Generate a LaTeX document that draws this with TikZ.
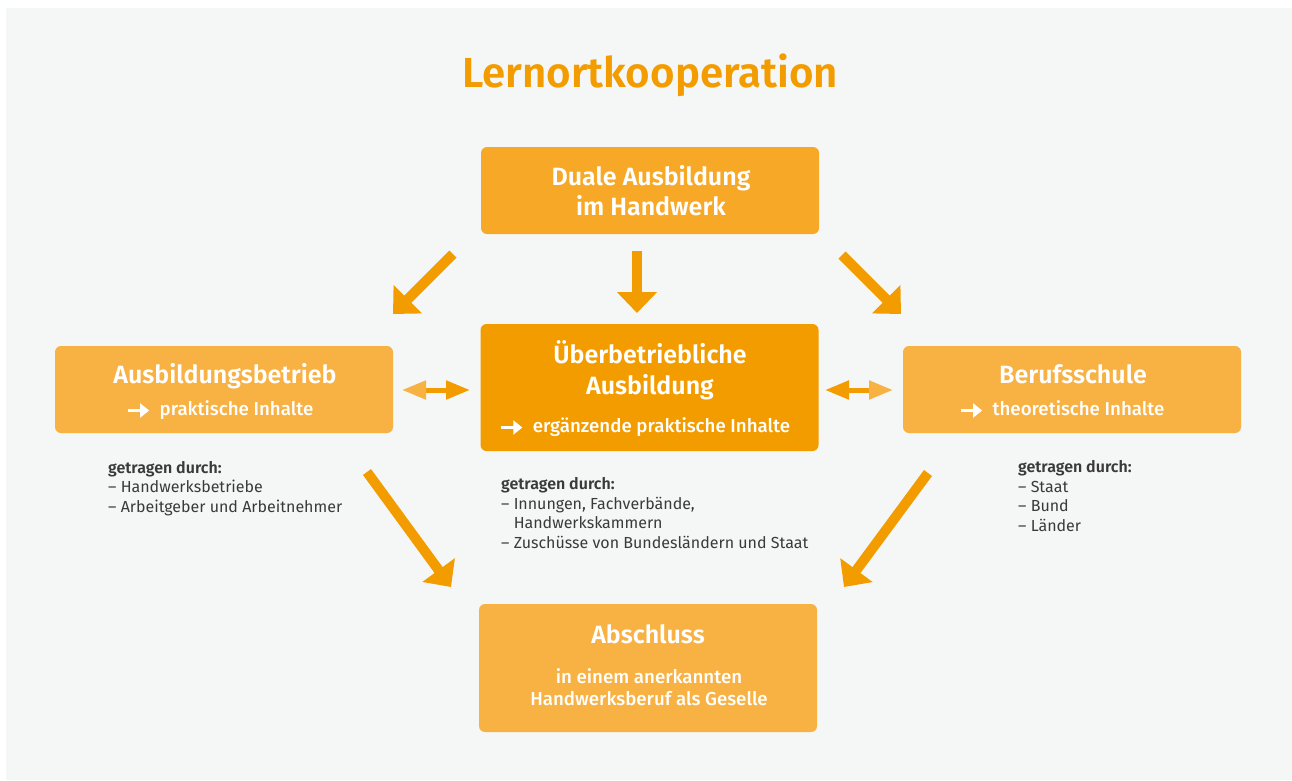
\documentclass[tikz,border=0pt]{standalone}
\usepackage{fontspec}
\setmainfont{Fira Sans}[BoldFont={Fira Sans SemiBold}]
\newfontfamily\mittel{Fira Sans Medium}
\usetikzlibrary{arrows.meta}

\definecolor{dunkelorange}{HTML}{F39C00}
\definecolor{hellorange}{HTML}{F8B143}
\definecolor{kopforange}{HTML}{F7A827}
\definecolor{grund}{HTML}{F5F7F6}
\definecolor{schrift}{HTML}{3A3A3A}

\newcommand{\zeiger}{\tikz[baseline=-4.5pt]\draw[white,line width=3pt,-{Triangle[length=9pt,width=14pt]}] (0,0) -- (21pt,0);\hspace{9pt}}

\begin{document}
\begin{tikzpicture}[x=1pt,y=-1pt]
\tikzset{kasten/.style = {rectangle,rounded corners=6pt,inner sep=0pt,
                          minimum width=338pt},
         kopf/.style   = {white,font=\bfseries\fontsize{25}{30}\selectfont,
                          anchor=base,inner sep=0pt},
         unter/.style  = {white,font=\mittel\fontsize{18.7}{22}\selectfont,
                          anchor=base,inner sep=0pt},
         liste/.style  = {schrift,font=\fontsize{16}{19.5}\selectfont,
                          anchor=base west,inner sep=0pt,align=left},
         pfeil/.style  = {dunkelorange,line width=10pt,
                          -{Triangle[length=21pt,width=39pt]}},
         doppel/.style = {dunkelorange,line width=5pt}}
\useasboundingbox (0,0) rectangle (1292,780);
\fill[grund] (6,8) rectangle (1292,780);

\node[dunkelorange,font=\bfseries\fontsize{42}{50}\selectfont,anchor=base,inner sep=0pt]
     (titel) at (650,87) {Lernortkooperation};

% Kaesten
\node[kasten,fill=kopforange,minimum height=87pt]   (dual)      at (650,190.5) {};
\node[kasten,fill=dunkelorange,minimum height=127pt] (ueber)    at (649.5,387.5) {};
\node[kasten,fill=hellorange,minimum height=87pt]   (betrieb)   at (224,389.5) {};
\node[kasten,fill=hellorange,minimum height=87pt]   (schule)    at (1072,389.5) {};
\node[kasten,fill=hellorange,minimum height=128pt]  (abschluss) at (648,668) {};

\node[kopf]  (dual1)     at (651,185) {Duale Ausbildung};
\node[kopf]  (dual2)     at (651,215) {im Handwerk};
\node[kopf]  (ueber1)    at (650,363) {Überbetriebliche};
\node[kopf]  (ueber2)    at (650,394) {Ausbildung};
\node[unter] (ueber3)    at (645,432) {\zeiger ergänzende praktische Inhalte};
\node[kopf]  (betrieb1)  at (225,383) {Ausbildungsbetrieb};
\node[unter] (betrieb2)  at (220,415) {\zeiger praktische Inhalte};
\node[kopf]  (schule1)   at (1073,383) {Berufsschule};
\node[unter] (schule2)   at (1062,415) {\zeiger theoretische Inhalte};
\node[kopf]  (abschl1)   at (648,643) {Abschluss};
\node[unter] (abschl2)   at (649,683) {in einem anerkannten};
\node[unter] (abschl3)   at (649,705) {Handwerksberuf als Geselle};

% getragen durch (Lage = Grundlinie der letzten Zeile)
\node[liste] (traeger1) at (108,512)
     {\textbf{getragen durch:}\\– Handwerksbetriebe\\– Arbeitgeber und Arbeitnehmer};
\node[liste] (traeger2) at (501,548)
     {\textbf{getragen durch:}\\– Innungen, Fachverbände,\\\phantom{– }Handwerkskammern\\– Zuschüsse von Bundesländern und Staat};
\node[liste] (traeger3) at (1018,531)
     {\textbf{getragen durch:}\\– Staat\\– Bund\\– Länder};

% Pfeile
\coordinate (p1a) at (453,254);  \coordinate (p1b) at (393,314);
\coordinate (p2a) at (637,251);  \coordinate (p2b) at (637,313);
\coordinate (p3a) at (842,255);  \coordinate (p3b) at (901,314);
\coordinate (p4a) at (367,472);  \coordinate (p4b) at (451,587);
\coordinate (p5a) at (928,473);  \coordinate (p5b) at (844,587);
\foreach \i in {1,...,5} \draw[pfeil] (p\i a) -- (p\i b);

\coordinate (d1a) at (402,390);  \coordinate (d1b) at (470,390);
\coordinate (d2a) at (825,390);  \coordinate (d2b) at (893,390);
\draw[doppel,{Triangle[length=24pt,width=18pt,color=hellorange]}-{Triangle[length=24pt,width=18pt]}]
     (d1a) -- (d1b);
\draw[doppel,{Triangle[length=24pt,width=18pt]}-{Triangle[length=24pt,width=18pt,color=hellorange]}]
     (d2a) -- (d2b);
\end{tikzpicture}
\end{document}
